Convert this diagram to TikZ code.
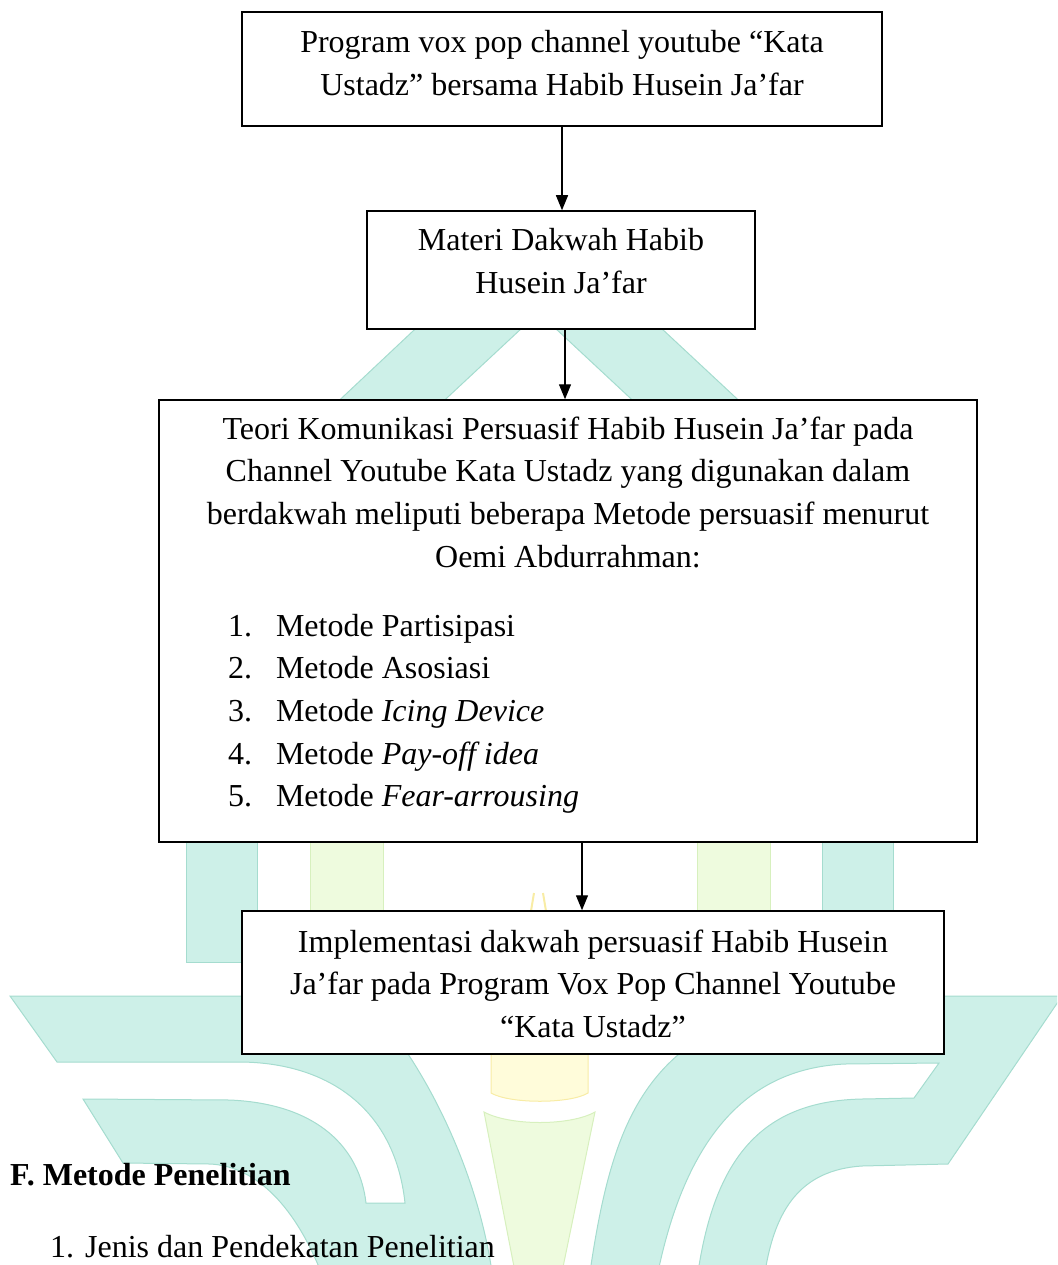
\documentclass[tikz,border=0pt]{standalone}
\usepackage{fontspec}
\setmainfont{Liberation Serif}
\usetikzlibrary{arrows.meta}
\definecolor{tealfill}{RGB}{205,240,232}
\definecolor{tealedge}{RGB}{165,220,207}
\definecolor{greenfill}{RGB}{238,251,222}
\definecolor{greenedge}{RGB}{215,240,190}
\definecolor{yelfill}{RGB}{255,252,218}
\definecolor{yeledge}{RGB}{248,236,165}
\newcommand{\myfont}{\fontsize{32}{42.7}\selectfont}
\tikzset{
  box/.style={draw=black, line width=1.5pt, fill=white, inner sep=0pt},
  txt/.style={anchor=base, inner sep=0pt, font=\myfont},
  arr/.style={-{Triangle[length=15pt,width=12pt]}, line width=1.3pt},
  wmteal/.style={fill=tealfill, draw=tealedge, line width=1pt},
  wmgreen/.style={fill=greenfill, draw=greenedge, line width=1pt},
  wmyellow/.style={fill=yelfill, draw=yeledge, line width=1pt},
}
\begin{document}
\begin{tikzpicture}[x=1pt,y=-1pt]
\useasboundingbox (0,0) rectangle (1057,1265);
% ---------- watermark ----------
\begin{scope}
\clip (0,0) rectangle (1057,1265);
% roof bands
\path[wmteal] (446,300) -- (552,300) -- (434,410) -- (329,410) -- cycle;
\path[wmteal] (525,300) -- (631,300) -- (749,410) -- (643,410) -- cycle;
% pillars
\path[wmteal] (186,830) rectangle (257,962);
\path[wmgreen] (310,830) rectangle (383,925);
\path[wmgreen] (697,830) rectangle (770,925);
\path[wmteal] (822,830) rectangle (893,925);
% flame tip
\draw[yeledge, line width=2pt] (531,911) -- (534,893);
\draw[yeledge, line width=2pt] (546,911) -- (543,893);
% candle
\path[wmyellow] (491,1040) -- (588,1040) -- (588,1093)
  .. controls (570,1104) and (510,1104) .. (491,1093) -- cycle;
% tapered green body
\path[wmgreen] (484,1112) .. controls (510,1126) and (570,1126) .. (595,1112)
  -- (562,1272) -- (515,1272) -- cycle;
% left wing
\path[wmteal] (10,996) -- (400,996) -- (408,1054)
  .. controls (445,1110) and (480,1190) .. (492,1272)
  -- (321,1272) .. controls (292,1200) and (252,1166) .. (210,1164)
  -- (123,1163) -- (83,1099) -- (230,1100)
  .. controls (320,1104) and (360,1150) .. (366,1203)
  -- (405,1203) .. controls (395,1110) and (330,1063) .. (241,1062)
  -- (57,1062) -- cycle;
% right wing
\path[wmteal, even odd rule] (690,996) -- (1062,996) -- (948,1164) -- (862,1166)
  .. controls (800,1170) and (775,1210) .. (765,1272)
  -- (590,1272) .. controls (605,1170) and (625,1100) .. (679,1054) -- cycle
  (939,1063) -- (845,1064) .. controls (760,1068) and (690,1120) .. (658,1272)
  -- (698,1272) .. controls (715,1160) and (760,1101) .. (862,1099)
  -- (914,1098) -- cycle;
\end{scope}
% ---------- boxes ----------
\node[box, minimum width=640pt, minimum height=114pt] (b1) at (562,69) {};
\node[box, minimum width=388pt, minimum height=118pt] (b2) at (561,270) {};
\node[box, minimum width=818pt, minimum height=442pt] (b3) at (568,621) {};
\node[box, minimum width=702pt, minimum height=143pt] (b4) at (593,982.5) {};
% ---------- connectors ----------
\coordinate (x2) at (565,0);
\coordinate (x3) at (582,0);
\draw[arr] (b1.south) -- (b1.south |- b2.north);
\draw[arr] (b2.south -| x2) -- (b3.north -| x2);
\draw[arr] (b3.south -| x3) -- (b4.north -| x3);
% ---------- texts ----------
\node[txt] (t1) at (562,53) {\parbox[t]{640pt}{\centering Program vox pop channel youtube “Kata\\ Ustadz” bersama Habib Husein Ja’far}};
\node[txt] (t2) at (561,251) {\parbox[t]{388pt}{\centering Materi Dakwah Habib\\ Husein Ja’far}};
\node[txt] (t3) at (568,439) {\parbox[t]{780pt}{\centering Teori Komunikasi Persuasif Habib Husein Ja’far pada\\ Channel Youtube Kata Ustadz yang digunakan dalam\\ berdakwah meliputi beberapa Metode persuasif menurut\\ Oemi Abdurrahman:\par
\vspace{26.3pt}\raggedright
\hspace*{50pt}\makebox[48pt][l]{1.}Metode Partisipasi\\
\hspace*{50pt}\makebox[48pt][l]{2.}Metode Asosiasi\\
\hspace*{50pt}\makebox[48pt][l]{3.}Metode \textit{Icing Device}\\
\hspace*{50pt}\makebox[48pt][l]{4.}Metode \textit{Pay-off idea}\\
\hspace*{50pt}\makebox[48pt][l]{5.}Metode \textit{Fear-arrousing}}};
\node[txt] (t4) at (593,952) {\parbox[t]{702pt}{\centering Implementasi dakwah persuasif Habib Husein\\ Ja’far pada Program Vox Pop Channel Youtube\\ “Kata Ustadz”}};
\node[txt, anchor=base west] (sec) at (10,1185) {\bfseries F. Metode Penelitian};
\node[txt, anchor=base west] (item) at (50,1257) {\makebox[35pt][l]{1.}Jenis dan Pendekatan Penelitian};
\end{tikzpicture}
\end{document}
